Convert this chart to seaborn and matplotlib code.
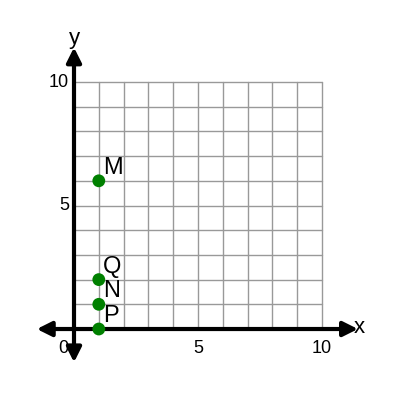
import numpy as np
import matplotlib
matplotlib.use('Agg')
import matplotlib.pyplot as plt
import seaborn as sns
import pandas as pd

names = ['M', 'Q', 'N', 'P']
xs = [1, 1, 1, 1]
ys = [6, 2, 1, 0]
grid_max = 10
tick_vals = [5, 10]

sns.set_style('white')
plt.rcParams['font.family'] = ['Liberation Sans', 'DejaVu Sans']
plt.rcParams['text.color'] = 'black'

fig = plt.figure(figsize=(4, 4), dpi=100)
ax = fig.add_axes([0, 0, 1, 1])

# grid
for g in range(grid_max + 1):
    ax.plot([g, g], [0, grid_max], color='#999999', lw=1, zorder=1)
    ax.plot([0, grid_max], [g, g], color='#999999', lw=1, zorder=1)

# axes with arrows
arrow = dict(arrowstyle='<|-|>', lw=3, color='black', mutation_scale=22, shrinkA=0, shrinkB=0)
ax.annotate('', xy=(11.45, 0), xytext=(-1.5, 0), arrowprops=arrow, zorder=3)
ax.annotate('', xy=(0, 11.4), xytext=(0, -1.35), arrowprops=arrow, zorder=3)
ax.text(11.3, 0.05, 'x', fontsize=16, ha='left', va='center', zorder=5)
ax.text(0, 11.75, 'y', fontsize=16, ha='center', va='center', zorder=5)

# tick labels
for t in tick_vals:
    ax.text(t, -0.45, str(t), fontsize=13, ha='center', va='top')
    ax.text(-0.2, t, str(t), fontsize=13, ha='right', va='center')
ax.text(-0.45, -0.45, '0', fontsize=13, ha='center', va='top')

df = pd.DataFrame({'name': names, 'x': xs, 'y': ys})
sns.scatterplot(data=df, x='x', y='y', color='#008000', s=85, edgecolor='none', zorder=4, ax=ax, legend=False)
for _, r in df.iterrows():
    ax.text(r['x'] + 0.16, r['y'] + 0.28, r['name'], fontsize=17, ha='left', va='baseline')

ax.set_xlim(-2.984, 13.145)
ax.set_ylim(-2.874, 13.32)
ax.axis('off')

fig.savefig('out.png', dpi=100)
